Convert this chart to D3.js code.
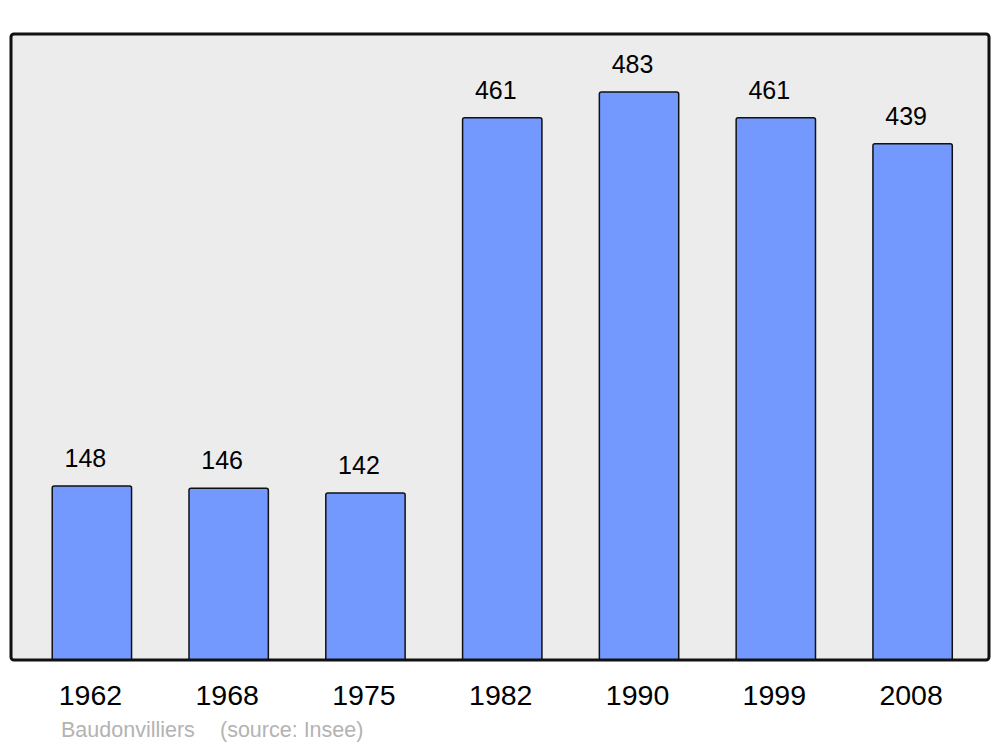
<!DOCTYPE html>
<html><head><meta charset="utf-8">
<script src="https://cdn.jsdelivr.net/npm/d3@7"></script>
<style>body{margin:0;background:#fff}svg{display:block;font-family:"Liberation Sans",Arial,sans-serif}</style>
</head><body>
<svg id="c" width="1000" height="747"></svg>
<script>
const years = ["1962","1968","1975","1982","1990","1999","2008"];
const population = [148,146,142,461,483,461,439];
const sourceText = ["Baudonvilliers", "(source: Insee)"];

const svg = d3.select("#c");
const frame = {x0: 11, x1: 989, y0: 34, y1: 660};
const x = d3.scaleBand().domain(years).range([23.5, 981]).paddingInner(0.42).paddingOuter(0.21);
const y = d3.scaleLinear().domain([0, 532.3]).range([frame.y1, frame.y0]);

svg.append("rect").attr("x", frame.x0).attr("y", frame.y0)
  .attr("width", frame.x1 - frame.x0).attr("height", frame.y1 - frame.y0)
  .attr("rx", 3).attr("fill", "#ececec").attr("stroke", "none");

svg.append("clipPath").attr("id","clip").append("rect")
  .attr("x", 0).attr("y", 0).attr("width", 1000).attr("height", frame.y1);

svg.append("g").attr("clip-path","url(#clip)")
  .selectAll("rect.bar").data(population).join("rect").attr("class","bar")
  .attr("x", (d,i) => x(years[i]))
  .attr("y", d => y(d))
  .attr("width", x.bandwidth())
  .attr("height", d => frame.y1 - y(d) + 4)
  .attr("rx", 2)
  .attr("fill", "#7399ff").attr("stroke", "#111").attr("stroke-width", 1.5);

svg.append("rect").attr("x", frame.x0).attr("y", frame.y0)
  .attr("width", frame.x1 - frame.x0).attr("height", frame.y1 - frame.y0)
  .attr("rx", 3).attr("fill", "none").attr("stroke", "#111").attr("stroke-width", 3);

svg.selectAll("text.val").data(population).join("text").attr("class","val")
  .attr("x", (d,i) => x(years[i]) + x.bandwidth()/2 - 6.5)
  .attr("y", d => y(d) - 19)
  .attr("text-anchor","middle").attr("font-size", 25).attr("fill","#000")
  .text(d => d);

const xAxis = d3.axisBottom(x).tickSize(0).tickPadding(0);
const ax = svg.append("g").attr("transform", `translate(-1.5, ${frame.y1 + 45})`).call(xAxis);
ax.select(".domain").remove();
ax.selectAll("text").attr("font-size", 28.5).attr("fill","#000")
  .attr("font-family", '"Liberation Sans",Arial,sans-serif').attr("dy", 0);

svg.append("text").attr("x", 61).attr("y", 737).attr("font-size", 21.5).attr("fill", "#b3b3b3")
  .text(sourceText[0]);
svg.append("text").attr("x", 220).attr("y", 737).attr("font-size", 21.5).attr("fill", "#b3b3b3")
  .text(sourceText[1]);
</script>
</body></html>
